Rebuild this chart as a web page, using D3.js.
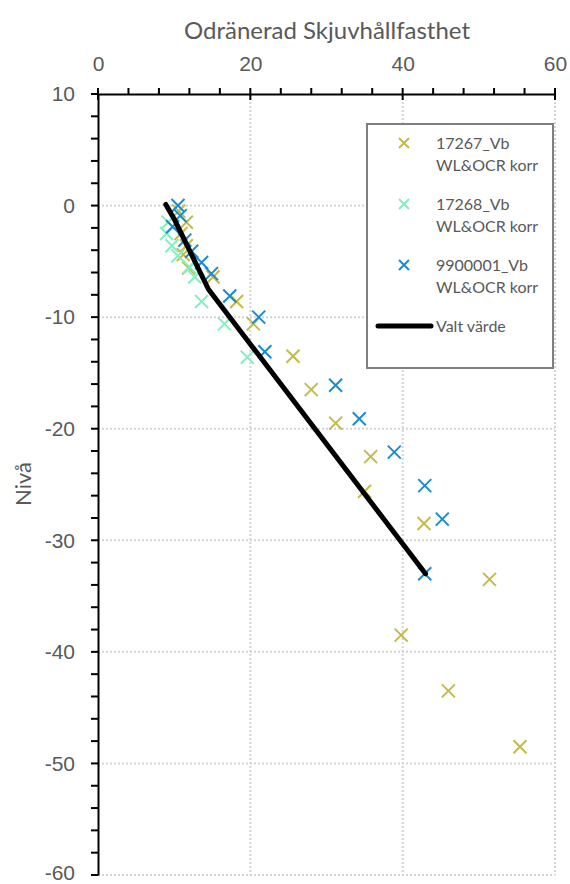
<!DOCTYPE html>
<html>
<head>
<meta charset="utf-8">
<script src="https://cdn.jsdelivr.net/npm/d3@7"></script>
<style>
    body { margin: 0; background: #fff; }
    svg { display: block; font-family: Lato, "Open Sans", sans-serif; }
</style>
</head>
<body>
<div id="chart"></div>
<script>
// Data: [skjuvhållfasthet, nivå]
const serie17267 = [
    [10.6, -0.5], [11.6, -1.5], [10.9, -2.5], [11.6, -3.6], [11.2, -4.4], [11.9, -5.6],
    [15.1, -6.4], [18.2, -8.6], [20.4, -10.6], [25.6, -13.5], [28.0, -16.5],
    [31.2, -19.5], [35.8, -22.5], [35.0, -25.6], [42.8, -28.5], [51.4, -33.5],
    [39.8, -38.5], [46.0, -43.5], [55.4, -48.5]
];
const serie17268 = [
    [9.2, -1.5], [9.0, -2.5], [9.7, -3.6], [10.5, -4.5], [12.0, -5.5], [12.7, -6.4],
    [13.6, -8.6], [16.6, -10.6], [19.6, -13.6]
];
const serie9900001 = [
    [10.5, 0.0], [10.8, -0.9], [9.8, -1.9], [11.4, -3.1], [12.3, -4.1], [13.6, -5.1],
    [14.9, -6.1], [17.3, -8.1], [21.1, -10.0], [21.9, -13.1], [31.2, -16.1],
    [34.3, -19.1], [38.9, -22.1], [42.9, -25.1], [45.2, -28.1], [42.9, -33.0]
];
const valtVarde = [[8.9, 0.1], [10.0, -1.2], [14.5, -7.5], [43.0, -33.0]];

const seriesNames = ['17267_Vb', '17268_Vb', '9900001_Vb'];
const seriesColors = ['#c4bb45', '#85efc2', '#1a8bd0'];
const xTicks = [0, 20, 40, 60];
const yTicks = [10, 0, -10, -20, -30, -40, -50, -60];

const width = 570, height = 884;
const svg = d3.select('#chart').append('svg')
    .attr('width', width)
    .attr('height', height);

const x = d3.scaleLinear().domain([0, 60]).range([98, 555]);
const y = d3.scaleLinear().domain([10, -60]).range([94, 875]);

const textColor = '#595959';

// Rutnät (prickat)
svg.append('g').selectAll('line')
    .data(xTicks.filter(d => d > 0))
    .enter().append('line')
    .attr('x1', d => x(d)).attr('x2', d => x(d))
    .attr('y1', y(10)).attr('y2', y(-60))
    .attr('stroke', '#d4d4d4').attr('stroke-width', 2)
    .attr('stroke-dasharray', '2,2');
svg.append('g').selectAll('line')
    .data(yTicks.filter(d => d < 10))
    .enter().append('line')
    .attr('x1', x(0)).attr('x2', x(60))
    .attr('y1', d => y(d)).attr('y2', d => y(d))
    .attr('stroke', '#d4d4d4').attr('stroke-width', 2)
    .attr('stroke-dasharray', '2,2');

// X-axel överst
const xAxis = d3.axisTop(x).tickValues(xTicks).tickSize(0).tickFormat(d => String(d));
const gx = svg.append('g').attr('transform', `translate(0,${y(10)})`).call(xAxis);
gx.select('.domain').attr('stroke', '#000').attr('stroke-width', 2);
gx.selectAll('text').attr('fill', textColor).attr('font-size', 21).attr('y', -23.5).attr('dy', 0);
// mindre streck
svg.append('g').selectAll('line')
    .data(d3.range(0, 61, 4))
    .enter().append('line')
    .attr('x1', d => x(d)).attr('x2', d => x(d))
    .attr('y1', y(10) - 6)
    .attr('y2', d => d % 20 === 0 ? y(10) + 6 : y(10))
    .attr('stroke', '#000').attr('stroke-width', 2);

// Y-axel
const yAxis = d3.axisLeft(y).tickValues(yTicks).tickSize(0).tickPadding(23).tickFormat(d => String(d));
const gy = svg.append('g').attr('transform', `translate(${x(0)},0)`).call(yAxis);
gy.select('.domain').attr('stroke', '#000').attr('stroke-width', 2);
gy.selectAll('text').attr('fill', textColor).attr('font-size', 21)
    .attr('dy', d => d === -60 ? '0.2em' : '0.32em'); // sista etiketten ligger mot nederkanten
svg.append('g').selectAll('line')
    .data(d3.range(-60, 11, 2))
    .enter().append('line')
    .attr('x1', x(0) - 7).attr('x2', x(0))
    .attr('y1', d => y(d)).attr('y2', d => y(d))
    .attr('stroke', '#000').attr('stroke-width', 2);

// Axeltitlar
svg.append('text')
    .attr('x', 327).attr('y', 39)
    .attr('text-anchor', 'middle')
    .attr('font-size', 24)
    .attr('fill', textColor)
    .text('Odränerad Skjuvhållfasthet');
svg.append('text')
    .attr('transform', `translate(31,484) rotate(-90)`)
    .attr('text-anchor', 'middle')
    .attr('font-size', 22)
    .attr('fill', textColor)
    .text('Nivå');

// Markörer
const cross = 'M-6.5,-6.5L6.5,6.5M-6.5,6.5L6.5,-6.5';
[serie17267, serie17268, serie9900001].forEach((data, i) => {
    svg.append('g').selectAll('path')
        .data(data)
        .enter().append('path')
        .attr('d', cross)
        .attr('transform', d => `translate(${x(d[0])},${y(d[1])})`)
        .attr('stroke', seriesColors[i])
        .attr('stroke-width', 2)
        .attr('fill', 'none');
});

// Valt värde
const line = d3.line().x(d => x(d[0])).y(d => y(d[1]));
svg.append('path')
    .datum(valtVarde)
    .attr('d', line)
    .attr('fill', 'none')
    .attr('stroke', '#000')
    .attr('stroke-width', 5)
    .attr('stroke-linejoin', 'round')
    .attr('stroke-linecap', 'round');

// Förklaring
const legend = svg.append('g');
legend.append('rect')
    .attr('x', 367).attr('y', 124)
    .attr('width', 186).attr('height', 244)
    .attr('fill', '#fff')
    .attr('stroke', '#7f7f7f').attr('stroke-width', 2);

seriesNames.forEach((name, i) => {
    const cy = 143 + i * 61;
    legend.append('path')
        .attr('d', 'M-5,-5L5,5M-5,5L5,-5')
        .attr('transform', `translate(404,${cy})`)
        .attr('stroke', seriesColors[i]).attr('stroke-width', 2);
    const t = legend.append('text')
        .attr('x', 436).attr('y', cy + 6)
        .attr('font-size', 16)
        .attr('fill', textColor);
    t.append('tspan').attr('x', 436).text(name);
    t.append('tspan').attr('x', 436).attr('dy', 22).text('WL&OCR korr');
});
legend.append('line')
    .attr('x1', 378).attr('x2', 431)
    .attr('y1', 326).attr('y2', 326)
    .attr('stroke', '#000').attr('stroke-width', 5)
    .attr('stroke-linecap', 'round');
legend.append('text')
    .attr('x', 436).attr('y', 332)
    .attr('font-size', 16)
    .attr('fill', textColor)
    .text('Valt värde');
</script>
</body>
</html>
